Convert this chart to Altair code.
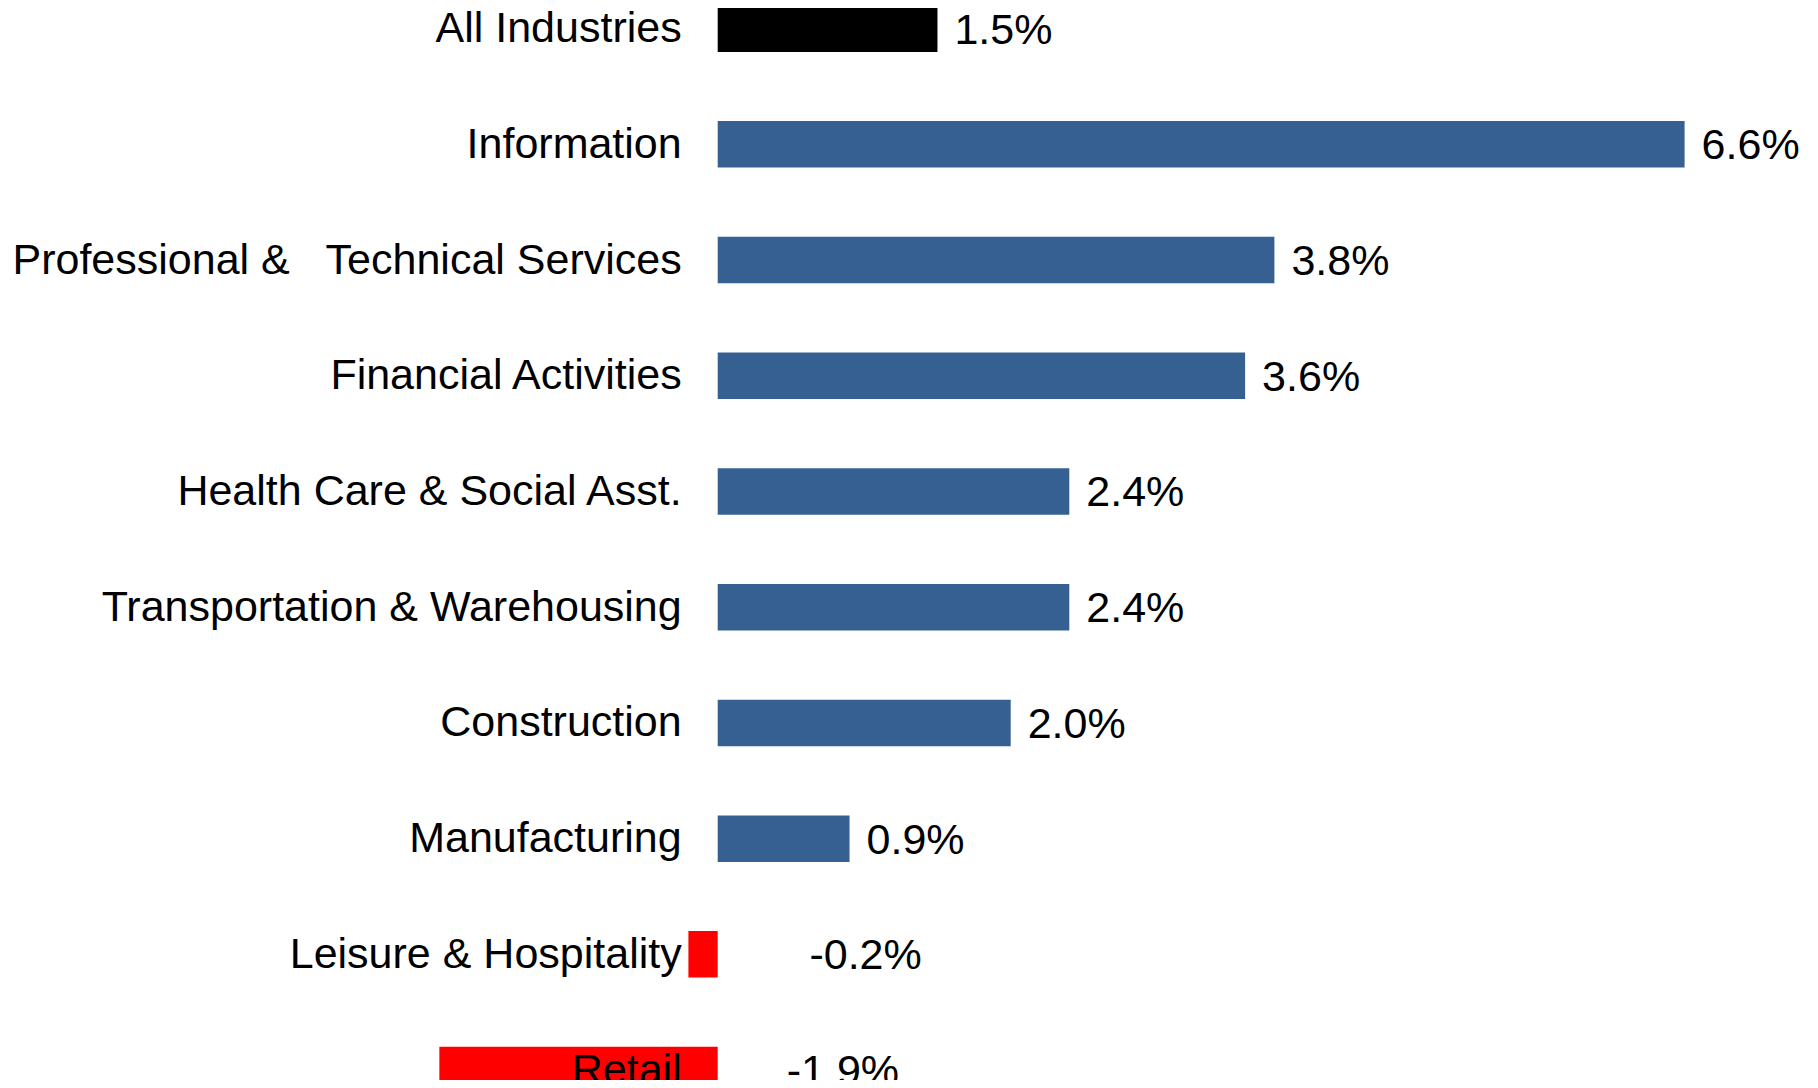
import altair as alt
import pandas as pd

categories = [
    "All Industries",
    "Information",
    "Professional &\u00a0\u00a0\u00a0Technical Services",
    "Financial Activities",
    "Health Care & Social Asst.",
    "Transportation & Warehousing",
    "Construction",
    "Manufacturing",
    "Leisure & Hospitality",
    "Retail",
]
values = [1.5, 6.6, 3.8, 3.6, 2.4, 2.4, 2.0, 0.9, -0.2, -1.9]
value_labels = ["1.5%", "6.6%", "3.8%", "3.6%", "2.4%", "2.4%", "2.0%", "0.9%", "-0.2%", "-1.9%"]
groups = ["Total", "Gain", "Gain", "Gain", "Gain", "Gain", "Gain", "Gain", "Loss", "Loss"]

df = pd.DataFrame({
    "category": categories,
    "value": values,
    "label": value_labels,
    "group": groups,
    "idx": list(range(len(categories))),
})

FONT = "Liberation Sans"
PX_PER_UNIT = 146.5
W, H = 1802, 1072
x_scale = alt.Scale(domain=[-709.7 / PX_PER_UNIT, (W - 709.7) / PX_PER_UNIT], nice=False, zero=False)
step = 116.8
y0 = -15.8 / step
y_scale = alt.Scale(domain=[y0, y0 + H / step], nice=False, zero=False, reverse=True)

base = alt.Chart(df).transform_calculate(
    zero="0",
    lx="datum.value >= 0 ? datum.value : (datum.value < -1 ? 0.355 : 0.51)",
)

bars = base.mark_bar(orient="horizontal", size=46.5).encode(
    x=alt.X("value:Q", scale=x_scale, axis=None),
    x2=alt.X2("zero:Q"),
    y=alt.Y("idx:Q", scale=y_scale, axis=None),
    color=alt.Color(
        "group:N",
        scale=alt.Scale(domain=["Total", "Gain", "Loss"], range=["#000000", "#376092", "#FF0000"]),
        legend=None,
    ),
)

cat_text = base.mark_text(
    align="right", baseline="alphabetic", dx=-36, dy=13.5, font=FONT, fontSize=43, color="#000000"
).encode(
    x=alt.X("zero:Q", scale=x_scale, axis=None),
    y=alt.Y("idx:Q", scale=y_scale, axis=None),
    text="category:N",
)

val_text = base.mark_text(
    align="left", baseline="alphabetic", dx=17, dy=15, font=FONT, fontSize=43, color="#000000"
).encode(
    x=alt.X("lx:Q", scale=x_scale, axis=None),
    y=alt.Y("idx:Q", scale=y_scale, axis=None),
    text="label:N",
)

chart = alt.layer(bars, cat_text, val_text).properties(
    width=W, height=H, padding=0, autosize=alt.AutoSizeParams(type="none")
).configure_view(stroke=None)

chart.save("out.html", embed_options={"renderer": "svg", "actions": False})
